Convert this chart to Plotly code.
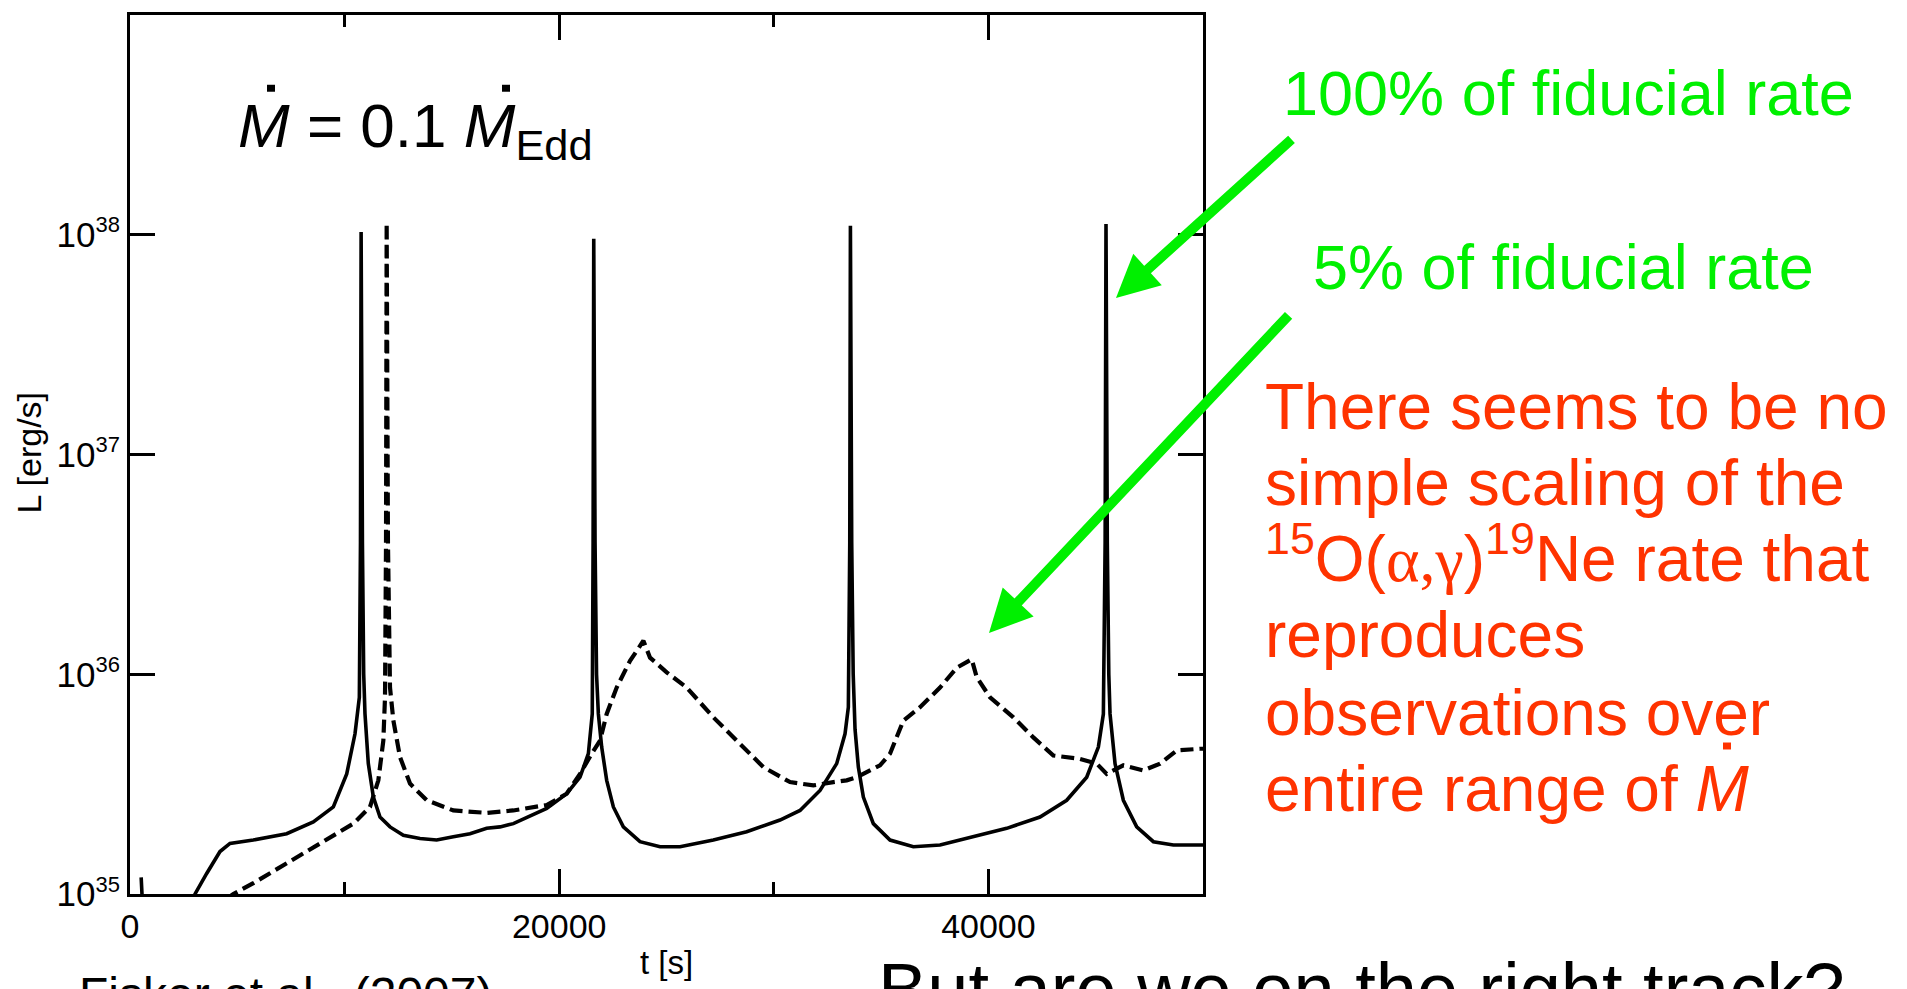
import plotly.graph_objects as go

# ---------------- data ----------------
# 100% of fiducial 15O(a,g)19Ne rate  (solid)
t_100 = [520, 570, 2900, 3029, 3574, 4194, 4660, 5746, 7300, 8543, 9475, 10099, 10485, 10687,
         10740, 10770, 10830, 10890, 10950, 11105, 11340, 11650, 12116, 12737, 13514, 14290,
         15067, 15844, 16620, 17242, 17863, 19417, 20349, 20970, 21359, 21540,
         21580, 21610, 21670, 21740, 21825, 21980, 22213, 22524, 22989, 23766, 24698, 25630,
         27183, 28736, 30290, 31222, 32154, 32930, 33319, 33474,
         33540, 33570, 33630, 33700, 33785, 33940, 34173, 34639, 35416, 36503, 37746, 39299,
         40852, 42405, 43648, 44580, 45124, 45357,
         45440, 45480, 45540, 45610, 45668, 45901, 46289, 46911, 47688, 48620, 49860, 50000]
L_100 = [1.19e35, 0.95e35, 0.80e35, 1.00e35, 1.24e35, 1.56e35, 1.70e35, 1.76e35, 1.88e35, 2.13e35,
         2.49e35, 3.52e35, 5.36e35, 7.85e35,
         4.0e36, 1.03e38, 4.0e36, 1.0e36, 6.6e35, 3.92e35, 2.76e35, 2.24e35, 2.02e35, 1.85e35,
         1.79e35, 1.76e35, 1.82e35, 1.88e35, 1.99e35, 2.02e35, 2.09e35, 2.45e35, 2.86e35, 3.40e35,
         4.35e35, 6.6e35,
         4.0e36, 9.6e37, 4.0e36, 1.0e36, 6.6e35, 4.66e35, 3.29e35, 2.49e35, 2.02e35, 1.73e35,
         1.64e35, 1.64e35, 1.76e35, 1.92e35, 2.17e35, 2.40e35, 2.96e35, 3.92e35, 5.36e35, 7.08e35,
         4.0e36, 1.10e38, 4.0e36, 1.0e36, 5.62e35, 3.78e35, 2.76e35, 2.09e35, 1.76e35, 1.64e35,
         1.67e35, 1.82e35, 1.99e35, 2.24e35, 2.67e35, 3.40e35, 4.66e35, 6.59e35,
         4.0e36, 1.12e38, 4.0e36, 1.0e36, 6.6e35, 3.92e35, 2.67e35, 2.02e35, 1.73e35, 1.67e35,
         1.67e35, 1.67e35]

# 5% of fiducial rate (dashed)
t_5 = [4500, 4815, 5746, 7300, 8854, 10407, 11184, 11572, 11805, 11883,
       11930, 11960, 12020, 12116, 12271, 12582, 13048, 13825, 15067, 16620, 17863, 19417,
       20349, 20970, 21515, 21902, 22213, 22679, 23300, 23922, 24233, 25010, 25942, 27183,
       28426, 29512, 30756, 31843, 32775, 33396, 33863, 34950, 35416, 36037, 36814, 37746,
       38523, 39222, 39455, 40075, 41162, 42094, 43026, 44270, 45046, 45512, 46289, 47221,
       48000, 48775, 49860, 50000]
L_5 = [0.95e35, 1.00e35, 1.12e35, 1.38e35, 1.70e35, 2.09e35, 2.49e35, 3.29e35, 4.99e35, 7.85e35,
       4.0e36, 1.13e38, 4.0e36, 8.7e35, 6.17e35, 4.20e35, 3.18e35, 2.67e35, 2.40e35, 2.34e35,
       2.40e35, 2.54e35, 2.86e35, 3.52e35, 4.35e35, 4.99e35, 6.6e35, 8.7e35, 1.15e36, 1.42e36,
       1.19e36, 1.02e36, 8.7e35, 6.37e35, 4.82e35, 3.78e35, 3.23e35, 3.12e35, 3.23e35, 3.29e35,
       3.40e35, 3.85e35, 4.35e35, 6.15e35, 7.08e35, 8.7e35, 1.07e36, 1.17e36, 9.7e35, 7.85e35,
       6.37e35, 5.16e35, 4.27e35, 4.12e35, 3.92e35, 3.52e35, 3.85e35, 3.65e35, 3.92e35, 4.50e35,
       4.58e35, 4.58e35]

x_tick_vals = [0, 20000, 40000]
x_tick_text = ["0", "20000", "40000"]
x_minor_vals = [10000, 30000]
y_tick_vals = [1e35, 1e36, 1e37, 1e38]
y_exponents = ["35", "36", "37", "38"]
y_tick_text = ["10<sup><span style='font-size:22px'>%s</span></sup>" % e for e in y_exponents]

red_lines = [
    "There seems to be no",
    "simple scaling of the",
    "<sup>15</sup>O(<span style='font-family:Liberation Serif, Times New Roman, serif'>α,γ</span>)<sup>19</sup>Ne rate that",
    "reproduces",
    "observations over",
    "entire range of <i>M</i>",
]

# ---------------- layout geometry (pixels) ----------------
W, H = 1907, 989
L_PX, R_PX, T_PX, B_PX = 130, 1203, 12, 894


def px(x):
    return (x - L_PX) / (R_PX - L_PX)


def py(y):
    return (B_PX - y) / (B_PX - T_PX)


FONT = "Liberation Sans, Arial, Helvetica, sans-serif"
GREEN = "#00F000"
RED = "#FF3300"

fig = go.Figure()
fig.add_trace(go.Scatter(x=t_100, y=L_100, mode="lines", name="100% of fiducial rate",
                         line=dict(color="black", width=3.6)))
fig.add_trace(go.Scatter(x=t_5, y=L_5, mode="lines", name="5% of fiducial rate",
                         line=dict(color="black", width=4.2, dash="13px,6px")))

axis_common = dict(showline=True, linewidth=3, linecolor="black", mirror="ticks",
                   ticks="inside", ticklen=25, tickwidth=3, tickcolor="black",
                   showgrid=False, zeroline=False)

fig.update_layout(
    width=W, height=H,
    margin=dict(l=L_PX, r=W - R_PX, t=T_PX, b=H - B_PX, pad=0),
    paper_bgcolor="white", plot_bgcolor="white",
    showlegend=False,
    font=dict(family=FONT, color="black"),
    xaxis=dict(range=[0, 50000], tickmode="array", tickvals=x_tick_vals, ticktext=x_tick_text,
               minor=dict(tickmode="array", tickvals=x_minor_vals, ticks="inside", ticklen=12,
                          tickwidth=3, tickcolor="black", showgrid=False),
               tickfont=dict(family=FONT, size=34, color="black"),
               **axis_common),
    yaxis=dict(type="log", range=[35, 39], tickmode="array", tickvals=y_tick_vals,
               ticktext=y_tick_text, tickfont=dict(family=FONT, size=35, color="black"),
               ticklabelstandoff=0, **axis_common),
)

ann = []
# axis titles
ann.append(dict(text="t [s]", x=px(666), y=py(963), xref="paper", yref="paper",
                xanchor="center", yanchor="middle", showarrow=False,
                font=dict(family=FONT, size=33, color="black")))
ann.append(dict(text="L [erg/s]", x=px(29), y=py(451), xref="paper", yref="paper",
                xanchor="center", yanchor="middle", textangle=-90, showarrow=False,
                font=dict(family=FONT, size=34, color="black")))

# M-dot label
fs_m = 62
ann.append(dict(text="<i>M</i> = 0.1 <i>M</i><sub>Edd</sub>", x=px(236), y=py(142 - 0.905 * fs_m),
                xref="paper", yref="paper", xanchor="left", yanchor="top", showarrow=False,
                font=dict(family=FONT, size=fs_m, color="black")))

# green labels
fs_g = 63
ann.append(dict(text="100% of fiducial rate", x=px(1281), y=py(110 - 0.905 * fs_g),
                xref="paper", yref="paper", xanchor="left", yanchor="top", showarrow=False,
                font=dict(family=FONT, size=fs_g, color=GREEN)))
ann.append(dict(text="5% of fiducial rate", x=px(1311), y=py(285 - 0.905 * fs_g),
                xref="paper", yref="paper", xanchor="left", yanchor="top", showarrow=False,
                font=dict(family=FONT, size=fs_g, color=GREEN)))

# red block
fs_r = 64
baselines = [430, 506, 582, 659, 737, 813]
for line, bl in zip(red_lines, baselines):
    ann.append(dict(text=line, x=px(1263), y=py(bl + 0.212 * fs_r), xref="paper", yref="paper",
                    xanchor="left", yanchor="bottom", showarrow=False,
                    font=dict(family=FONT, size=fs_r, color=RED)))

# bottom texts
ann.append(dict(text="Fisker et al., (2007)", x=px(77), y=py(966), xref="paper", yref="paper",
                xanchor="left", yanchor="top", showarrow=False,
                font=dict(family=FONT, size=48, color="black")))
ann.append(dict(text="But are we on the right track?", x=px(876), y=py(946), xref="paper", yref="paper",
                xanchor="left", yanchor="top", showarrow=False,
                font=dict(family=FONT, size=74, color="black")))

# green arrows
ann.append(dict(text="", x=px(1116), y=py(296), xref="paper", yref="paper",
                ax=177, ay=-160, axref="pixel", ayref="pixel", showarrow=True,
                arrowhead=2, arrowsize=0.85, arrowwidth=10, arrowcolor=GREEN, standoff=0))
ann.append(dict(text="", x=px(989), y=py(632), xref="paper", yref="paper",
                ax=301, ay=-319, axref="pixel", ayref="pixel", showarrow=True,
                arrowhead=2, arrowsize=0.85, arrowwidth=10, arrowcolor=GREEN, standoff=0))

fig.update_layout(annotations=ann)

# dots above the M's (Mdot accents)
shapes = []
for (x0, x1, y0, y1, c) in [(267, 275, 82, 89, "black"), (502, 510, 82, 89, "black"),
                            (1723, 1731, 742, 749, RED)]:
    shapes.append(dict(type="rect", xref="paper", yref="paper",
                       x0=px(x0), x1=px(x1), y0=py(y1), y1=py(y0),
                       fillcolor=c, line=dict(width=0)))
fig.update_layout(shapes=shapes)

fig.write_html("out.html")
